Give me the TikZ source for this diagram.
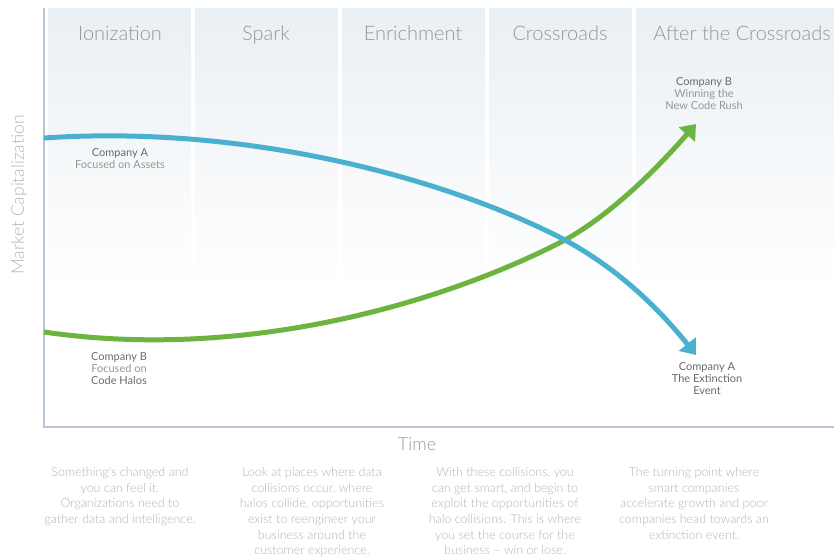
\documentclass[tikz,border=0pt]{standalone}
\usepackage{fontspec}
\setmainfont{Lato}
\newfontfamily\lightfont{Lato Light}
\usetikzlibrary{arrows.meta}
\usetikzlibrary{positioning}

\definecolor{axisgray}{RGB}{184,197,213}
\definecolor{panelblue}{RGB}{234,239,244}
\definecolor{headgray}{RGB}{150,150,150}
\definecolor{labeldark}{RGB}{105,105,105}
\definecolor{labellight}{RGB}{150,150,150}
\definecolor{notegray}{RGB}{180,180,180}
\definecolor{curveblue}{RGB}{74,176,207}
\definecolor{curvegreen}{RGB}{109,179,63}

\tikzset{
  panel/.style={top color=panelblue,bottom color=white,draw=none},
  header/.style={anchor=base,font=\lightfont\fontsize{20}{24}\selectfont,text=headgray},
  company/.style={align=center,inner sep=0pt,font=\fontsize{11}{12}\selectfont,text=labellight},
  note/.style={align=center,inner sep=0pt,anchor=north,font=\lightfont\fontsize{12.5}{15.7}\selectfont,text=notegray},
  curve/.style={line width=5pt,-{Triangle[width=21pt,length=14pt]}}
}

\begin{document}
\begin{tikzpicture}[x=1pt,y=-1pt]
  \useasboundingbox (0,0) rectangle (834,558);
  \begin{scope}[every path/.style={panel}]
    \shade (48,8) rectangle (191,290);
    \shade (195,8) rectangle (338,290);
    \shade (342,8) rectangle (485,290);
    \shade (489,8) rectangle (632,290);
    \shade (636,8) rectangle (834,290);
  \end{scope}
  \begin{scope}[every node/.style={header}]
    \node (ionization) at (120,40) {Ionization};
    \node (spark) at (266,40) {Spark};
    \node (enrichment) at (413,40) {Enrichment};
    \node (crossroads) at (560,40) {Crossroads};
    \node (after) at (742,40) {After the Crossroads};
  \end{scope}
  \coordinate (ytop) at (44,8);
  \coordinate (origin) at (44,427);
  \coordinate (xend) at (834,427);
  \draw[axisgray,line width=1.2pt] (ytop) -- (origin) -- (xend);
  \node[rotate=90,font=\lightfont\fontsize{17.5}{20}\selectfont,text=notegray] (mcap) at (19,195) {Market Capitalization};
  \node[font=\lightfont\fontsize{18}{20}\selectfont,text=headgray] (time) at (417,444) {Time};
  \coordinate (astart) at (44,138);
  \coordinate (across) at (565,240);
  \coordinate (aend) at (696,355);
  \coordinate (bstart) at (44,332);
  \coordinate (bend) at (696,124);
  \draw[curve,curvegreen] (bstart) .. controls (250,362) and (450,300) .. (across) .. controls (615,212) and (660,165) .. (bend);
  \draw[curve,curveblue] (astart) .. controls (250,124) and (450,180) .. (across) .. controls (620,270) and (660,310) .. (aend);
  \begin{scope}[every node/.style={company}]
    \node (alabel) at (120,159) {\textcolor{labeldark}{Company A}\\Focused on Assets};
    \node (blabel) at (119,369) {\textcolor{labeldark}{Company B}\\Focused on\\\textcolor{labeldark}{Code Halos}};
    \node (bwin) at (704,94) {\textcolor{labeldark}{Company B}\\Winning the\\New Code Rush};
    \node (aext) at (707,379) {\textcolor{labeldark}{Company A}\\\textcolor{labeldark}{The Extinction}\\\textcolor{labeldark}{Event}};
  \end{scope}
  \begin{scope}[every node/.style={note}]
    \node (ionnote) at (120,467) {Something's changed and\\you can feel it.\\Organizations need to\\gather data and intelligence.};
    \node (sparknote) at (312,467) {Look at places where data\\collisions occur, where\\halos collide, opportunities\\exist to reengineer your\\business around the\\customer experience.};
    \node (enrichnote) at (505,467) {With these collisions, you\\can get smart, and begin to\\exploit the opportunities of\\halo collisions. This is where\\you set the course for the\\business – win or lose.};
    \node (crossnote) at (694,467) {The turning point where\\smart companies\\accelerate growth and poor\\companies head towards an\\extinction event.};
  \end{scope}
\end{tikzpicture}
\end{document}
